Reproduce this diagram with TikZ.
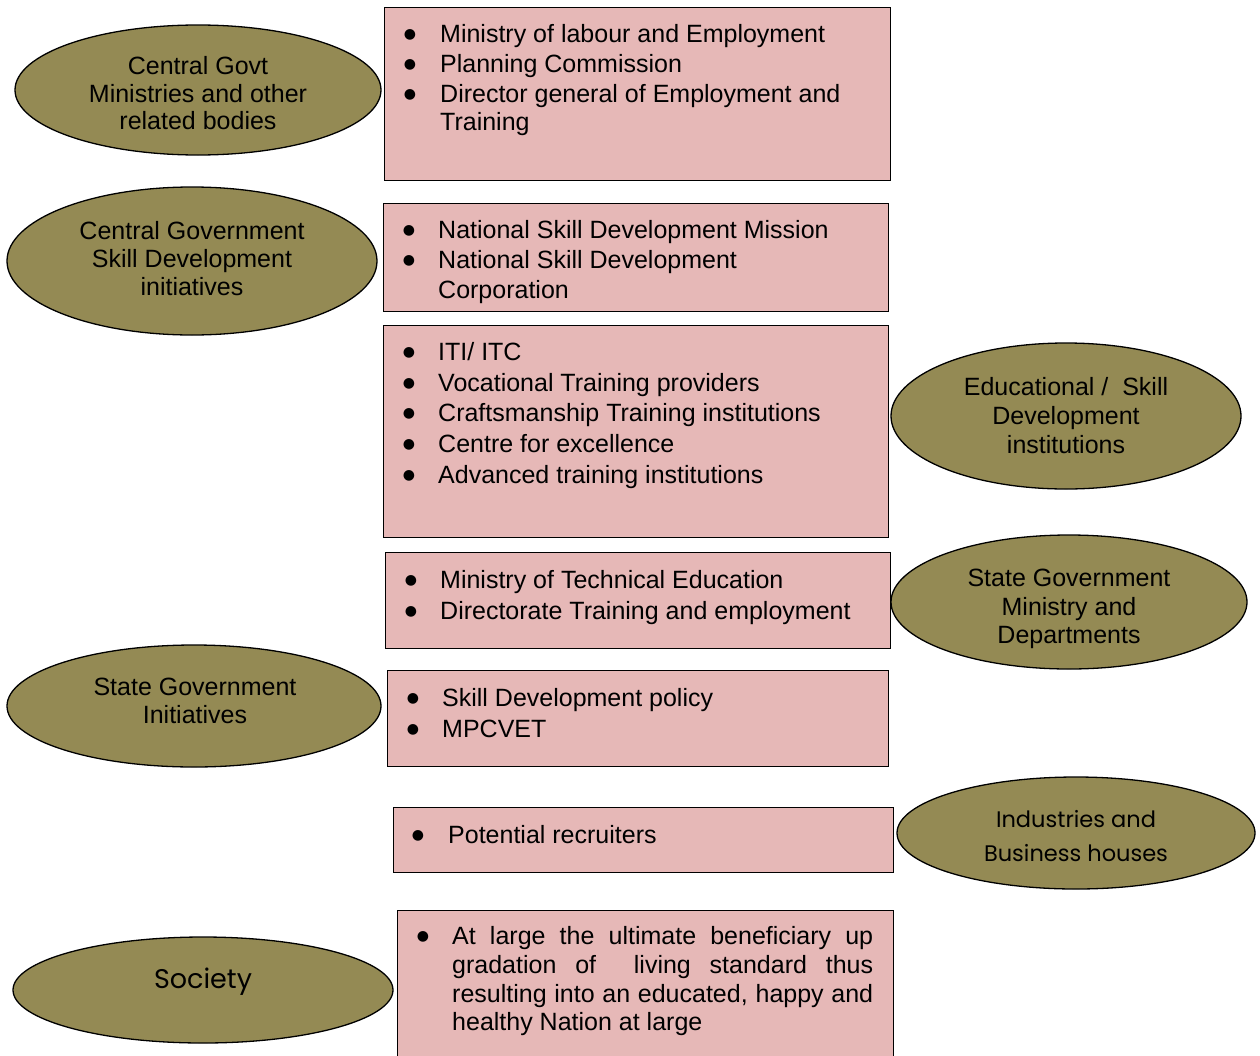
\documentclass[tikz,border=0pt]{standalone}
\usepackage{fontspec}
\setmainfont{Liberation Sans}
\newfontfamily\gothic{Poppins}
\newfontfamily\dejavu{DejaVu Sans}
\usetikzlibrary{shapes.geometric}
\definecolor{ovalfill}{HTML}{948A54}
\definecolor{boxfill}{HTML}{E6B8B7}
\newcommand\bigbul{\raisebox{3.5pt}{\dejavu\fontsize{14}{16}\selectfont ●}}
\newcommand\blitem[5]{\node[txt,anchor=base] (#1b) at (#2,#4) {\bigbul}; \node[txt,anchor=base west] (#1) at (#3,#4) {#5};}
\newcommand\eline[4]{\node[txt,anchor=base] (#1) at (#2,#3) {#4};}
\tikzset{
  oval/.style={ellipse, draw=black, line width=1.3pt, fill=ovalfill, inner sep=0pt},
  box/.style={draw=black, line width=1.4pt, fill=boxfill, inner sep=0pt, anchor=north west},
  txt/.style={inner sep=0pt, font=\fontsize{25}{30}\selectfont},
  gtxt/.style={inner sep=0pt, font=\gothic\fontsize{22.5}{27}\selectfont},
  gbig/.style={inner sep=0pt, font=\gothic\fontsize{27}{32}\selectfont},
}
\begin{document}
\begin{tikzpicture}[x=1pt,y=-1pt]
\useasboundingbox[fill=white] (0,0) rectangle (1260,1055);

% ellipses
\node[oval, minimum width=366pt, minimum height=130pt] (E1) at (198,90) {};
\node[oval, minimum width=370pt, minimum height=148pt] (E2) at (192,261) {};
\node[oval, minimum width=350pt, minimum height=146pt] (E3) at (1066,416) {};
\node[oval, minimum width=356pt, minimum height=134pt] (E4) at (1069,602) {};
\node[oval, minimum width=374pt, minimum height=122pt] (E5) at (194,706) {};
\node[oval, minimum width=358pt, minimum height=112pt] (E6) at (1076,833) {};
\node[oval, minimum width=380pt, minimum height=106pt] (E7) at (203,990) {};

\eline{e1a}{198}{74}{Central Govt}
\eline{e1b}{198}{102}{Ministries and other}
\eline{e1c}{198}{129}{related bodies}
\eline{e2a}{192}{239}{Central Government}
\eline{e2b}{192}{267}{Skill Development}
\eline{e2c}{192}{295}{initiatives}
\eline{e3a}{1066}{395}{Educational /\ \ Skill}
\eline{e3b}{1066}{424}{Development}
\eline{e3c}{1066}{453}{institutions}
\eline{e4a}{1069}{586}{State Government}
\eline{e4b}{1069}{615}{Ministry and}
\eline{e4c}{1069}{643}{Departments}
\eline{e5a}{195}{695}{State Government}
\eline{e5b}{195}{723}{Initiatives}
\node[gtxt,anchor=base] (e6a) at (1076,827) {Industries and};
\node[gtxt,anchor=base] (e6b) at (1076,861) {Business houses};
\node[gbig,anchor=base] (e7a) at (203,988) {Society};

% boxes
\node[box, minimum width=506pt, minimum height=173pt] (A) at (384,7) {};
\node[box, minimum width=505pt, minimum height=108pt] (B) at (383,203) {};
\node[box, minimum width=505pt, minimum height=212pt] (C) at (383,325) {};
\node[box, minimum width=505pt, minimum height=96pt] (D) at (385,552) {};
\node[box, minimum width=501pt, minimum height=96pt] (E) at (387,670) {};
\node[box, minimum width=500pt, minimum height=65pt] (F) at (393,807) {};
\node[box, minimum width=496pt, minimum height=160pt] (G) at (397,910) {};

\blitem{a1}{410}{440}{42}{Ministry of labour and Employment}
\blitem{a2}{410}{440}{72}{Planning Commission}
\blitem{a3}{410}{440}{102}{Director general of Employment and}
\node[txt,anchor=base west] (a4) at (440,130) {Training};

\blitem{b1}{409}{438}{238}{National Skill Development Mission}
\blitem{b2}{409}{438}{268}{National Skill Development}
\node[txt,anchor=base west] (b3) at (438,298) {Corporation};

\blitem{c1}{409}{438}{360}{ITI/ ITC}
\blitem{c2}{409}{438}{391}{Vocational Training providers}
\blitem{c3}{409}{438}{421}{Craftsmanship Training institutions}
\blitem{c4}{409}{438}{452}{Centre for excellence}
\blitem{c5}{409}{438}{483}{Advanced training institutions}

\blitem{d1}{411}{440}{588}{Ministry of Technical Education}
\blitem{d2}{411}{440}{619}{Directorate Training and employment}

\blitem{f1}{413}{442}{706}{Skill Development policy}
\blitem{f2}{413}{442}{737}{MPCVET}

\blitem{h1}{418}{448}{843}{Potential recruiters}

\node[txt,anchor=base] (g1b) at (423,944) {\bigbul};
\node[txt,anchor=base west] (g1) at (452,944) {\makebox[421pt][s]{At large the ultimate beneficiary up}};
\node[txt,anchor=base west] (g2) at (452,973) {\makebox[421pt][s]{gradation of\ \ living standard thus}};
\node[txt,anchor=base west] (g3) at (452,1002) {\makebox[421pt][s]{resulting into an educated, happy and}};
\node[txt,anchor=base west] (g4) at (452,1030) {healthy Nation at large};
\end{tikzpicture}
\end{document}
